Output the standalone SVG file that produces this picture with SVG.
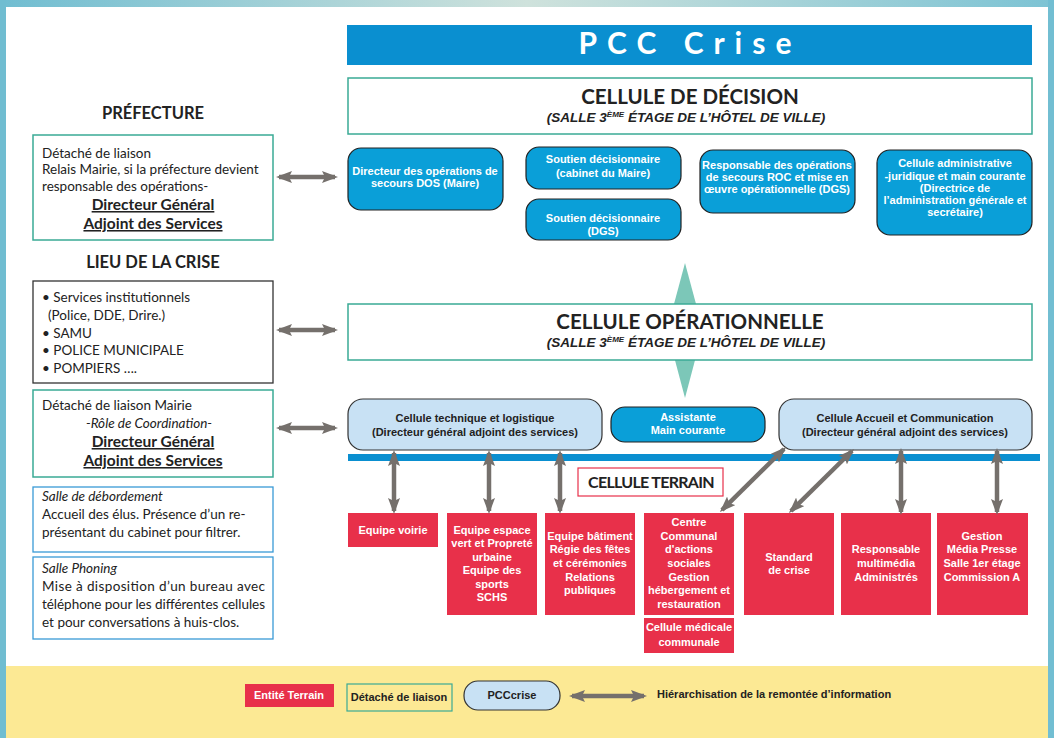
<svg xmlns="http://www.w3.org/2000/svg" width="1054" height="738" viewBox="0 0 1054 738">
<defs>
<linearGradient id="topg" x1="0" y1="0" x2="1" y2="0">
<stop offset="0" stop-color="#70bdd1"/>
<stop offset="0.5" stop-color="#cfe2dc"/>
<stop offset="1" stop-color="#7cc3d4"/>
</linearGradient>
<marker id="ah" viewBox="0 0 16 12" markerWidth="16" markerHeight="12" refX="13" refY="6" orient="auto-start-reverse" markerUnits="userSpaceOnUse">
<path d="M0,0 L16,6 L0,12 L3,6 z" fill="#75706c"/>
</marker>
<style>
.reg{font-family:Lato,"Liberation Sans",sans-serif;font-size:13.5px;fill:#222}
.it{font-style:italic}
.ul{font-weight:bold;text-decoration:underline;font-size:15.5px}
.hd{font-family:Lato,"Liberation Sans",sans-serif;font-weight:bold;font-size:16.5px;fill:#222;text-anchor:middle}
.nb{font-family:"Liberation Sans Narrow","Liberation Sans",sans-serif;font-weight:bold;font-size:11px;text-anchor:middle}
.st{text-anchor:start}
.w{fill:#fff}
.k{fill:#222}
.blue{fill:#0a9fd8;stroke:#222;stroke-width:1.2}
.lb{fill:#c8e1f4;stroke:#333;stroke-width:1.2}
.red{fill:#e8304a}
.tealbox{fill:#fff;stroke:#3aaa95;stroke-width:1.5}
.arr{stroke:#75706c;stroke-width:4.5;fill:none;marker-start:url(#ah);marker-end:url(#ah)}
.big{font-family:Lato,"Liberation Sans",sans-serif;font-weight:bold;fill:#222;text-anchor:middle}
.sub{font-family:"Liberation Sans",sans-serif;font-weight:bold;font-style:italic;font-size:13.5px;fill:#222;text-anchor:middle}
</style>
</defs>
<rect x="0" y="0" width="1054" height="738" fill="#fff"/>
<rect x="0" y="0" width="1054" height="7" fill="url(#topg)"/>
<rect x="0" y="0" width="6" height="738" fill="#70bdd1"/>
<rect x="1048" y="0" width="6" height="738" fill="#72bed2"/>
<rect x="6" y="666" width="1042" height="72" fill="#fce994"/>

<g id="diamond"><polygon points="685,263 703,330 685,398 667,330" fill="#7cc7b8"/></g>

<g id="banner">
<rect x="347" y="25" width="685" height="40" fill="#0a8fd0"/>
<text x="690" y="54" font-family="Lato,'Liberation Sans',sans-serif" font-weight="bold" font-size="30" fill="#fff" text-anchor="middle" letter-spacing="10">PCC Crise</text>
</g>

<g id="cellule-decision">
<rect class="tealbox" x="348" y="78" width="684" height="56"/>
<text class="big" x="690" y="104" font-size="20.5">CELLULE DE DÉCISION</text>
<text class="sub" x="686" y="122">(SALLE 3<tspan font-size="8" dy="-5">ÈME</tspan><tspan dy="5"> ÉTAGE DE L’HÔTEL DE VILLE)</tspan></text>
</g>

<g id="dos">
<rect class="blue" x="348" y="148" width="155" height="62" rx="13"/>
<text class="nb w" x="425" y="175">Directeur des opérations de</text>
<text class="nb w" x="425" y="187">secours DOS  (Maire)</text>
</g>
<g id="soutien-cabinet">
<rect class="blue" x="526" y="147" width="155" height="42" rx="13"/>
<text class="nb w" x="603" y="163">Soutien décisionnaire</text>
<text class="nb w" x="603" y="177">(cabinet du Maire)</text>
</g>
<g id="soutien-dgs">
<rect class="blue" x="526" y="199" width="155" height="41" rx="13"/>
<text class="nb w" x="603" y="222">Soutien décisionnaire</text>
<text class="nb w" x="603" y="235">(DGS)</text>
</g>
<g id="roc">
<rect class="blue" x="700" y="150" width="155" height="63" rx="13"/>
<text class="nb w" x="777" y="169">Responsable des opérations</text>
<text class="nb w" x="777" y="181">de secours ROC et mise en</text>
<text class="nb w" x="777" y="193">œuvre opérationnelle (DGS)</text>
</g>
<g id="cellule-admin">
<rect class="blue" x="877" y="150" width="155" height="85" rx="13"/>
<text class="nb w" x="955" y="167">Cellule administrative</text>
<text class="nb w" x="955" y="180">-juridique et main courante</text>
<text class="nb w" x="955" y="192">(Directrice de</text>
<text class="nb w" x="955" y="204">l’administration générale et</text>
<text class="nb w" x="955" y="216">secrétaire)</text>
</g>

<g id="cellule-operationnelle">
<rect class="tealbox" x="348" y="304" width="684" height="56"/>
<text class="big" x="690" y="329" font-size="20.5">CELLULE OPÉRATIONNELLE</text>
<text class="sub" x="686" y="347">(SALLE 3<tspan font-size="8" dy="-5">ÈME</tspan><tspan dy="5"> ÉTAGE DE L’HÔTEL DE VILLE)</tspan></text>
</g>

<g id="cellule-technique">
<rect class="lb" x="348" y="399" width="254" height="51" rx="15"/>
<text class="nb k" x="475" y="422">Cellule  technique et logistique</text>
<text class="nb k" x="475" y="436">(Directeur général adjoint des services)</text>
</g>
<g id="assistante">
<rect class="blue" x="611" y="407" width="154" height="35" rx="14"/>
<text class="nb w" x="688" y="421">Assistante</text>
<text class="nb w" x="688" y="434">Main courante</text>
</g>
<g id="cellule-accueil">
<rect class="lb" x="779" y="399" width="253" height="51" rx="15"/>
<text class="nb k" x="905" y="422">Cellule Accueil et Communication</text>
<text class="nb k" x="905" y="436">(Directeur général adjoint des services)</text>
</g>

<g id="bar"><rect x="348" y="454" width="692" height="7" fill="#0a8fd0"/></g>

<g id="cellule-terrain">
<rect x="578" y="468" width="145" height="28" fill="#fff" stroke="#e8304a" stroke-width="1.2"/>
<text class="big" x="651" y="488" font-size="16" letter-spacing="-0.7">CELLULE TERRAIN</text>
</g>

<g id="equipe-voirie">
<rect class="red" x="348" y="513" width="90" height="34"/>
<text class="nb w" x="393" y="534">Equipe voirie</text>
</g>
<g id="equipe-espace">
<rect class="red" x="447" y="513" width="90" height="102"/>
<text class="nb w" x="492" y="534">Equipe espace</text>
<text class="nb w" x="492" y="547">vert et Propreté</text>
<text class="nb w" x="492" y="561">urbaine</text>
<text class="nb w" x="492" y="574">Equipe des</text>
<text class="nb w" x="492" y="588">sports</text>
<text class="nb w" x="492" y="601">SCHS</text>
</g>
<g id="equipe-batiment">
<rect class="red" x="545" y="513" width="90" height="102"/>
<text class="nb w" x="590" y="540">Equipe bâtiment</text>
<text class="nb w" x="590" y="553">Régie des fêtes</text>
<text class="nb w" x="590" y="567">et cérémonies</text>
<text class="nb w" x="590" y="581">Relations</text>
<text class="nb w" x="590" y="594">publiques</text>
</g>
<g id="ccas">
<rect class="red" x="644" y="513" width="90" height="102"/>
<text class="nb w" x="689" y="526">Centre</text>
<text class="nb w" x="689" y="540">Communal</text>
<text class="nb w" x="689" y="553">d'actions</text>
<text class="nb w" x="689" y="567">sociales</text>
<text class="nb w" x="689" y="581">Gestion</text>
<text class="nb w" x="689" y="594">hébergement et</text>
<text class="nb w" x="689" y="608">restauration</text>
</g>
<g id="cellule-medicale">
<rect class="red" x="644" y="618" width="90" height="35"/>
<text class="nb w" x="689" y="631">Cellule médicale</text>
<text class="nb w" x="689" y="646">communale</text>
</g>
<g id="standard">
<rect class="red" x="744" y="513" width="90" height="102"/>
<text class="nb w" x="789" y="561">Standard</text>
<text class="nb w" x="789" y="574">de crise</text>
</g>
<g id="multimedia">
<rect class="red" x="841" y="513" width="90" height="102"/>
<text class="nb w" x="886" y="553">Responsable</text>
<text class="nb w" x="886" y="567">multimédia</text>
<text class="nb w" x="886" y="581">Administrés</text>
</g>
<g id="gestion-media">
<rect class="red" x="937" y="513" width="91" height="102"/>
<text class="nb w" x="982" y="540">Gestion</text>
<text class="nb w" x="982" y="553">Média Presse</text>
<text class="nb w" x="982" y="567">Salle 1er étage</text>
<text class="nb w" x="982" y="581">Commission A</text>
</g>

<g id="prefecture">
<text class="hd" x="153" y="119">PRÉFECTURE</text>
<rect class="tealbox" x="33" y="135" width="240" height="105"/>
<text class="reg" x="42" y="158">Détaché de liaison</text>
<text class="reg" x="42" y="174">Relais Mairie, si la préfecture devient</text>
<text class="reg" x="42" y="191">responsable des opérations-</text>
<text class="reg ul" x="153" y="210" text-anchor="middle">Directeur Général</text>
<text class="reg ul" x="153" y="229" text-anchor="middle">Adjoint des Services</text>
</g>

<g id="lieu-crise">
<text class="hd" x="153" y="268">LIEU DE LA CRISE</text>
<rect x="33" y="281" width="240" height="102" fill="#fff" stroke="#333" stroke-width="1.3"/>
<text class="reg" x="42" y="302">• Services institutionnels</text>
<text class="reg" x="48" y="320">(Police, DDE, Drire.)</text>
<text class="reg" x="42" y="338">• SAMU</text>
<text class="reg" x="42" y="355">• POLICE MUNICIPALE</text>
<text class="reg" x="42" y="373">• POMPIERS ….</text>
</g>

<g id="detache-mairie">
<rect class="tealbox" x="33" y="390" width="240" height="87"/>
<text class="reg" x="42" y="410">Détaché de liaison Mairie</text>
<text class="reg it" x="149" y="428" text-anchor="middle" font-size="12.5">-Rôle de Coordination-</text>
<text class="reg ul" x="153" y="447" text-anchor="middle">Directeur Général</text>
<text class="reg ul" x="153" y="466" text-anchor="middle">Adjoint des Services</text>
</g>

<g id="salle-debordement">
<rect x="33" y="487" width="240" height="65" fill="#fff" stroke="#3a9ad6" stroke-width="1.3"/>
<text class="reg it" x="42" y="501">Salle de débordement</text>
<text class="reg" x="42" y="519">Accueil des élus. Présence d’un re-</text>
<text class="reg" x="42" y="537">présentant du cabinet pour filtrer.</text>
</g>

<g id="salle-phoning">
<rect x="33" y="557" width="240" height="82" fill="#fff" stroke="#3a9ad6" stroke-width="1.3"/>
<text class="reg it" x="42" y="573">Salle Phoning</text>
<text class="reg" x="42" y="591" textLength="223" lengthAdjust="spacing">Mise à disposition d’un bureau avec</text>
<text class="reg" x="42" y="609" textLength="223" lengthAdjust="spacing">téléphone pour les différentes cellules</text>
<text class="reg" x="42" y="627">et pour conversations à huis-clos.</text>
</g>

<g id="connectors">
<line class="arr" x1="279" y1="177" x2="335" y2="177"/>
<line class="arr" x1="279" y1="330" x2="335" y2="330"/>
<line class="arr" x1="279" y1="428" x2="335" y2="428"/>
<line class="arr" x1="394" y1="453" x2="394" y2="511"/>
<line class="arr" x1="489" y1="453" x2="489" y2="511"/>
<line class="arr" x1="560" y1="453" x2="560" y2="511"/>
<line class="arr" x1="722" y1="510" x2="784" y2="449"/>
<line class="arr" x1="791" y1="511" x2="852" y2="451"/>
<line class="arr" x1="901" y1="451" x2="901" y2="512"/>
<line class="arr" x1="997" y1="451" x2="997" y2="512"/>
</g>

<g id="legend">
<rect class="red" x="245" y="684" width="89" height="23"/>
<text class="nb w" x="289" y="699" font-size="10.5">Entité Terrain</text>
<rect x="347" y="684" width="105" height="27" fill="#fce994" stroke="#3aaa95" stroke-width="1.2"/>
<text class="nb k" x="399" y="701" font-size="10.5">Détaché de liaison</text>
<rect class="lb" x="464" y="681" width="96" height="29" rx="14"/>
<text class="nb k" x="512" y="699" font-size="10.5">PCCcrise</text>
<line class="arr" x1="572" y1="696" x2="644" y2="696"/>
<text class="nb k st" x="657" y="698" font-size="10.5">Hiérarchisation de la remontée d’information</text>
</g>
</svg>
